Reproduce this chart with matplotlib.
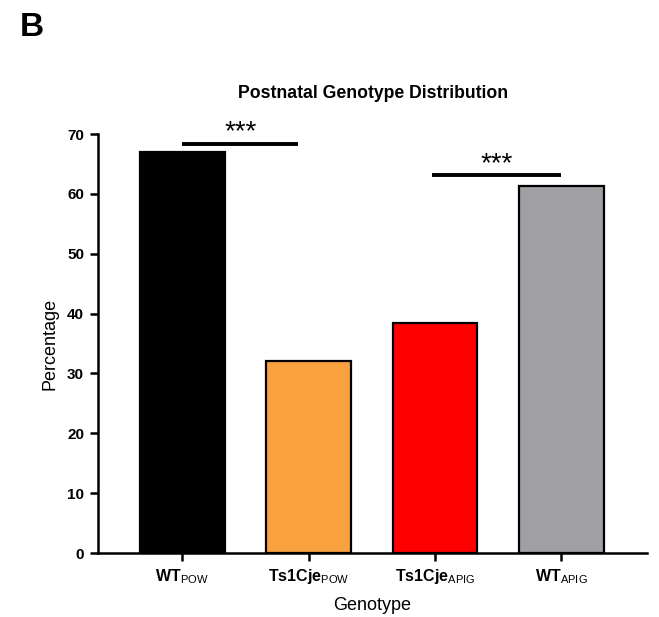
import matplotlib
matplotlib.use("Agg")
import matplotlib.pyplot as plt

plt.rcParams['font.family'] = ['Liberation Sans', 'DejaVu Sans']
plt.rcParams['mathtext.fontset'] = 'custom'
plt.rcParams['mathtext.rm'] = 'Liberation Sans'
plt.rcParams['mathtext.bf'] = 'Liberation Sans:bold'
plt.rcParams['mathtext.it'] = 'Liberation Sans:italic'

# Data
genotypes = [r'$\mathbf{WT}_{\mathrm{POW}}$', r'$\mathbf{Ts1Cje}_{\mathrm{POW}}$',
             r'$\mathbf{Ts1Cje}_{\mathrm{APIG}}$', r'$\mathbf{WT}_{\mathrm{APIG}}$']
percentages = [67.0, 32.1, 38.5, 61.3]
bar_colors = ['#000000', '#F9A13F', '#FF0000', '#A09FA4']
# significance brackets: (start index, end index, height, label)
sig_pairs = [(0, 0.92, 68.4, '***'), (1.98, 3.0, 63.1, '***')]
y_ticks = [0, 10, 20, 30, 40, 50, 60, 70]

fig = plt.figure(figsize=(6.59, 6.17), dpi=100)
ax = fig.add_axes([0.1487, 0.1037, 0.8333, 0.6791])

x = list(range(len(genotypes)))
ax.bar(x, percentages, width=0.67, color=bar_colors, edgecolor='black', linewidth=1.6)

for x0, x1, h, lab in sig_pairs:
    ax.plot([x0, x1], [h, h], color='black', linewidth=2.8, solid_capstyle='butt')
    ax.text((x0 + x1) / 2, h - 0.3, lab, ha='center', va='bottom', fontsize=20)

ax.set_xlim(-0.667, 3.68)
ax.set_ylim(0, 70)
ax.set_yticks(y_ticks)
ax.set_yticklabels([str(t) for t in y_ticks], fontweight='bold', fontsize=11)
ax.set_xticks(x)
ax.set_xticklabels(genotypes, fontsize=11.5)

for side in ['top', 'right']:
    ax.spines[side].set_visible(False)
for side in ['left', 'bottom']:
    ax.spines[side].set_linewidth(1.8)
ax.tick_params(axis='both', direction='out', length=6, width=1.8, pad=4)

ax.set_ylabel('Percentage', fontsize=13, labelpad=6)
ax.set_xlabel('Genotype', fontsize=13, labelpad=8)
ax.set_title('Postnatal Genotype Distribution', fontsize=12.7, fontweight='bold', pad=26)

fig.text(0.03, 0.955, 'B', fontsize=24, fontweight='bold', va='center', ha='left')

fig.savefig('out.png', dpi=100)
